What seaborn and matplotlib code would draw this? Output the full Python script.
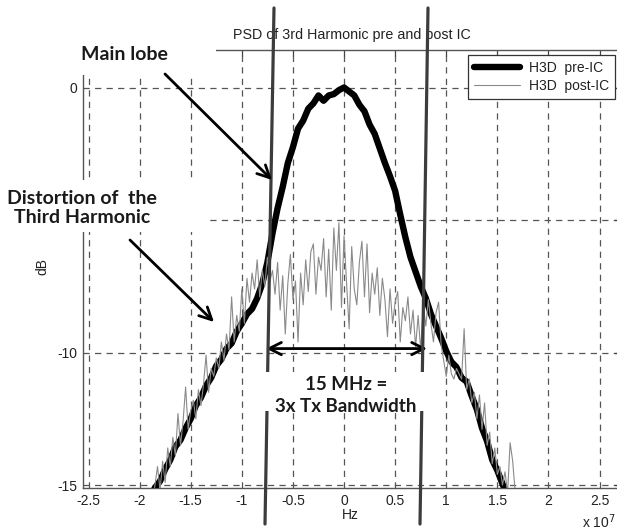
import numpy as np
import pandas as pd
import seaborn as sns
import matplotlib.pyplot as plt
from matplotlib.lines import Line2D
from matplotlib.patches import Rectangle, FancyArrowPatch
from matplotlib.ticker import FuncFormatter

# frequency bins in units of 1e7 Hz
freq_pre = np.round(np.arange(-1.90, 1.601, 0.05), 3)
db_pre = [-15.5, -15.1, -14.85, -14.4, -14.05, -13.55, -13.3, -12.85, -12.5, -12.0,
          -11.7, -11.25, -10.95, -10.5, -10.25, -9.85, -9.65, -9.2, -8.9, -8.55,
          -8.35, -7.95, -7.4, -6.6, -5.5, -4.55, -3.75, -2.85, -2.25, -1.55,
          -1.25, -0.8, -0.6, -0.3, -0.5, -0.3, -0.25, -0.1, 0.0, -0.15,
          -0.3, -0.65, -0.9, -1.4, -1.75, -2.3, -2.85, -3.35, -3.9, -4.8,
          -5.65, -6.4, -6.95, -7.5, -7.95, -8.55, -9.0, -9.45, -9.95, -10.35,
          -10.55, -10.95, -11.1, -11.65, -12.15, -12.85, -13.35, -14.05, -14.45, -14.95,
          -15.45]

freq_post = np.round(np.arange(-1.875, 1.7001, 0.025), 3)
db_post = [-15.6, -15.0, -14.3, -15.2, -14.1, -14.9, -13.6, -14.3,
           -13.2, -13.9, -12.3, -13.5, -12.6, -11.3, -12.9, -12.2,
           -11.8, -12.5, -11.4, -12.0, -11.2, -10.1, -11.5, -10.6,
           -10.9, -10.2, -10.6, -9.6, -10.3, -9.3, -9.9, -7.9,
           -9.6, -8.6, -9.2, -7.6, -8.9, -7.2, -8.1, -7.0,
           -7.6, -6.5, -7.9, -6.9, -7.5, -6.4, -7.3, -6.9,
           -7.8, -6.6, -8.4, -7.1, -9.3, -7.4, -6.3, -8.0,
           -7.3, -9.6, -7.0, -8.2, -6.5, -7.7, -6.2, -5.9,
           -7.8, -6.4, -6.9, -5.7, -7.9, -6.1, -8.4, -5.3,
           -6.9, -5.1, -8.3, -5.6, -7.4, -9.1, -6.0, -7.6,
           -8.2, -6.6, -5.8, -7.9, -5.9, -8.5, -7.0, -7.8,
           -6.8, -8.6, -7.2, -8.0, -9.4, -7.6, -8.9, -8.1,
           -7.7, -9.6, -8.3, -8.8, -7.9, -9.3, -8.4, -9.8,
           -8.6, -9.9, -8.2, -9.0, -8.0, -8.9, -9.6, -8.5,
           -8.1, -9.7, -10.3, -10.9, -10.1, -10.8, -11.0, -10.6,
           -10.8, -11.0, -9.1, -11.4, -11.0, -11.9, -11.5, -12.5,
           -11.6, -12.9, -11.9, -13.5, -13.0, -14.2, -13.6, -14.6,
           -14.3, -15.0, -14.5, -15.3, -13.4, -14.1, -15.3, -15.6]

x_ticks = [-2.5, -2, -1.5, -1, -0.5, 0, 0.5, 1, 1.5, 2, 2.5]
y_ticks = [-15, -10, -5, 0]
y_hidden = [-5]   # label sits under the annotation box

pre = pd.DataFrame({'freq': freq_pre, 'dB': db_pre})
post = pd.DataFrame({'freq': freq_post, 'dB': db_post})

sns.set_theme(style='white')
plt.rcParams['font.family'] = ['Liberation Sans', 'DejaVu Sans']
plt.rcParams['axes.unicode_minus'] = False
plt.rcParams['lines.scale_dashes'] = False

W, H = 617, 532
fig = plt.figure(figsize=(W / 100, H / 100), dpi=100)
ax = fig.add_axes([83 / W, 1 - 488 / H, (620 - 83) / W, (488 - 50) / H])

sns.lineplot(data=pre, x='freq', y='dB', color='black', lw=4.6, label='H3D  pre-IC', ax=ax, zorder=3)
sns.lineplot(data=post, x='freq', y='dB', color='#8a8a8a', lw=0.8, label='H3D  post-IC', ax=ax, zorder=4)

ax.set_xlim(-2.554, 2.70)
ax.set_ylim(-15.11, 1.415)
ax.set_xticks(x_ticks)
ax.set_yticks(y_ticks)
ax.xaxis.set_major_formatter(FuncFormatter(lambda v, p: f'{v:g}'))
ax.yaxis.set_major_formatter(FuncFormatter(lambda v, p: '' if v in y_hidden else f'{v:g}'))
ax.grid(True, color='#555555', lw=0.9, ls=(0, (4.5, 3.8)))
ax.set_axisbelow(True)
ax.tick_params(direction='in', length=4, width=0.9, color='#444444', top=True, right=True,
               labelsize=10, labelcolor='#222222', pad=4)
for s in ax.spines.values():
    s.set_color('#555555')
    s.set_linewidth(1.0)

ax.set_title('PSD of 3rd Harmonic pre and post IC', fontsize=10.3, color='#222222', pad=8)
ax.set_xlabel('Hz', fontsize=10, color='#222222')
ax.set_ylabel('dB', fontsize=10, color='#222222')
ax.xaxis.set_label_coords((350 - 83) / 537, -(508 - 488) / 438)
ax.yaxis.set_label_coords(-(83 - 49) / 537, (488 - 267) / 438)

leg = ax.legend(loc='upper right', bbox_to_anchor=(615 / W, 1 - 55 / H), bbox_transform=fig.transFigure,
                frameon=True, fancybox=False, edgecolor='#333333', framealpha=1, borderaxespad=0,
                fontsize=10, handlelength=3.3, handletextpad=0.6, borderpad=0.45, labelspacing=0.25)
leg.get_frame().set_linewidth(0.9)
for t in leg.get_texts():
    t.set_color('#222222')


def fx(px):
    return px / W


def fy(py):
    return 1 - py / H


# white patches hiding part of the plot behind the annotations
for (x0, y0, x1, y1) in [(65, 0, 216, 75), (0, 180, 207, 232), (255, 372, 435, 411)]:
    fig.add_artist(Rectangle((fx(x0), fy(y1)), fx(x1) - fx(x0), (y1 - y0) / H,
                             transform=fig.transFigure, facecolor='white', edgecolor='none', zorder=2.5))

# bandwidth boundary lines
for (xt, xb) in [(274, 265), (428, 420)]:
    fig.add_artist(Line2D([fx(xt), fx(xb)], [fy(8), fy(524)], transform=fig.transFigure,
                          color='#3c3c3c', lw=2.3, zorder=2))

bold = dict(family=['Lato', 'DejaVu Sans'], weight='bold', color='#1a1a1a', zorder=3)
fig.text(fx(124), fy(55), 'Main lobe', ha='center', va='center', fontsize=14, **bold)
fig.text(fx(82), fy(208), 'Distortion of  the\nThird Harmonic', ha='center', va='center',
         fontsize=14, linespacing=1.1, **bold)
fig.text(fx(346), fy(384), '15 MHz =', ha='center', va='center', fontsize=13.5, **bold)
fig.text(fx(346), fy(406), '3x Tx Bandwidth', ha='center', va='center', fontsize=13.5, **bold)

for (a, b) in [((165, 74), (272, 180)), ((130, 240), (214, 322))]:
    fig.add_artist(FancyArrowPatch((fx(a[0]), fy(a[1])), (fx(b[0]), fy(b[1])),
                                   transform=fig.transFigure, arrowstyle='->', mutation_scale=22,
                                   lw=2, color='black', shrinkA=0, shrinkB=0, zorder=3))

ax.annotate('', xy=(0.812, -9.85), xytext=(-0.763, -9.85), xycoords='data',
            arrowprops=dict(arrowstyle='<->', mutation_scale=22, lw=2, color='black',
                            shrinkA=0, shrinkB=0), zorder=6)

fig.text(fx(582), fy(522), 'x 10$^7$', ha='left', va='center', fontsize=10, color='#222222')

fig.savefig('out.png', dpi=100)
